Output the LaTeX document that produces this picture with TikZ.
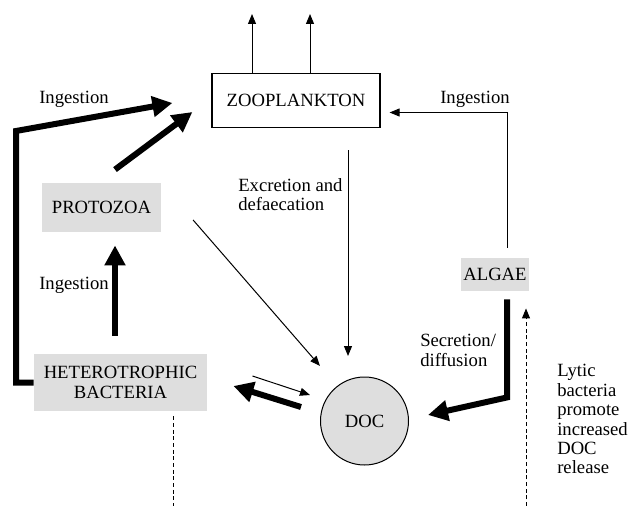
\documentclass[tikz,border=0pt]{standalone}
\usepackage{fontspec}
\setmainfont{Liberation Serif}
\usepackage{tikz}
\usetikzlibrary{arrows.meta,calc}
\definecolor{cbox}{RGB}{222,222,222}

\begin{document}
\begin{tikzpicture}[
    x=0.75pt, y=-0.75pt,
    font=\fontsize{14}{14.6}\selectfont,
    pool/.style={
        rectangle,
        fill=cbox,
        inner sep=2pt,
        align=center
    },
    label/.style={
        inner sep=0pt,
        align=left,
        anchor=north west
    },
    thinarr/.style={
        -{Triangle[length=7.5pt,width=6pt]},
        line width=0.75pt
    },
    thickarr/.style={
        -{Triangle[length=15pt,width=15pt]},
        line width=4.5pt
    },
    lysis/.style={
        line width=0.75pt,
        dash pattern=on 3pt off 2pt
    }
]
\useasboundingbox (0,0) rectangle (631,506);

% Pools
\node[draw, line width=0.9pt, minimum width=126pt, minimum height=41pt] (zoo) at (296,100.5) {ZOOPLANKTON};
\node[pool, minimum width=89pt, minimum height=37pt] (proto) at (101.5,207.5) {PROTOZOA};
\node[pool, minimum width=130pt, minimum height=43pt] (bact) at (120.5,382.5) {HETEROTROPHIC\\BACTERIA};
\node[pool, minimum width=45pt, minimum height=25pt] (algae) at (495,274.5) {ALGAE};
\node[circle, draw, fill=cbox, line width=0.75pt, minimum size=66pt, inner sep=0pt] (doc) at (364.5,421) {DOC};

% Free ends
\coordinate (bend) at (16,131);
\coordinate (sink1) at (252,14);
\coordinate (sink2) at (310,14);
\coordinate (lyticsrc) at (526,506);
\coordinate (bactsink) at (173.5,506);

% Labels
\node[label, anchor=west] (ingL) at (39,99) {Ingestion};
\node[label, anchor=west] (ingR) at (440,99) {Ingestion};
\node[label, anchor=west] (ingM) at (39,285) {Ingestion};
\node[label] (excr) at (238,178) {Excretion and\\defaecation};
\node[label] (secr) at (420,334) {Secretion/\\diffusion};
\node[label] (lytic) at (557,364) {Lytic\\bacteria\\promote\\increased\\DOC\\release};

% Losses from zooplankton
\draw[thinarr] (zoo.north -| sink1) -- (sink1);
\draw[thinarr] (zoo.north -| sink2) -- (sink2);

% Ingestion (thick)
\draw[thickarr] (bact.west) -| (bend) -- ($(zoo.west)+(-39,2.5)$);
\draw[thickarr] ($(proto.north)+(13.5,-13)$) -- ($(zoo.west)+(-19,11.5)$);
\draw[thickarr] ($(bact.north)+(-5.5,-18)$) -- ($(proto.south)+(13.5,13)$);

% Flows into DOC
\draw[thinarr] ($(proto.east)+(32,12.5)$) -- ($(doc.center)+(-44.5,-55)$);
\draw[thinarr] ($(zoo.south)+(52,22)$) -- ($(doc.north)+(-16.5,-20.5)$);
\draw[thickarr] ($(algae.south)+(12,8)$) -- ++(0,98) -- ($(doc.east)+(19,-6)$);

% Algae -> zooplankton
\draw[thinarr] ($(algae.north)+(12,-10)$) |- ($(zoo.east)+(9,12)$);

% Bacteria <-> DOC
\draw[thinarr] ($(bact.east)+(45,-6.5)$) -- ($(doc.west)+(-10,-26)$);
\draw[thickarr] ($(doc.west)+(-19,-14)$) -- ($(bact.east)+(26,3.5)$);

% Lysis
\draw[lysis, -{Triangle[length=7.5pt,width=6pt]}] (lyticsrc) -- ($(algae.south)+(31,17)$);
\draw[lysis] ($(bact.south)+(53,5)$) -- (bactsink);

\end{tikzpicture}
\end{document}
